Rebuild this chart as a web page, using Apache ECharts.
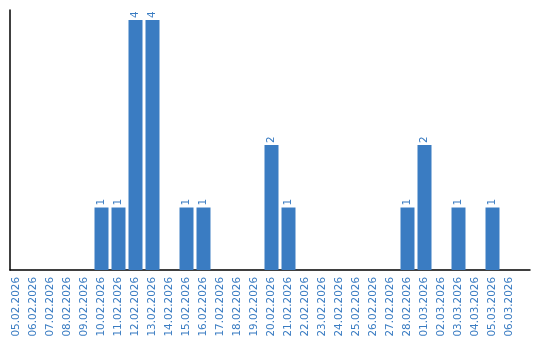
<!DOCTYPE html>
<html><head><meta charset="utf-8">
<script src="https://cdn.jsdelivr.net/npm/echarts@6/dist/echarts.min.js"></script>
<style>html,body{margin:0;padding:0;background:#fff}#c{width:540px;height:340px}</style>
</head><body><div id="c"></div>
<script>
const categories = ["05.02.2026","06.02.2026","07.02.2026","08.02.2026","09.02.2026","10.02.2026","11.02.2026","12.02.2026","13.02.2026","14.02.2026","15.02.2026","16.02.2026","17.02.2026","18.02.2026","19.02.2026","20.02.2026","21.02.2026","22.02.2026","23.02.2026","24.02.2026","25.02.2026","26.02.2026","27.02.2026","28.02.2026","01.03.2026","02.03.2026","03.03.2026","04.03.2026","05.03.2026","06.03.2026"];
const values = [0,0,0,0,0,1,1,4,4,0,1,1,0,0,0,2,1,0,0,0,0,0,0,1,2,0,1,0,1,0];
const blue = '#3a7cc2';
const chart = echarts.init(document.getElementById('c'));
chart.setOption({
  animation: false,
  grid: [
    {left: 8, right: 22, top: 10, bottom: 70, containLabel: false},
    {left: 10, right: 10, top: 10, bottom: 70, containLabel: false}
  ],
  xAxis: [{
    type: 'category', data: categories, gridIndex: 0,
    axisLine: {show: false},
    axisTick: {show: false},
    axisLabel: {rotate: 90, color: blue, fontSize: 10.4, fontFamily: 'DejaVu Sans', interval: 0, margin: 7}
  }, {
    type: 'value', gridIndex: 1, min: 0, max: 1,
    axisLine: {show: true, lineStyle: {color: '#000', width: 1.5}},
    axisTick: {show: false}, axisLabel: {show: false}, splitLine: {show: false}
  }],
  yAxis: [{
    type: 'value', gridIndex: 0, min: 0, max: 4.16,
    axisLine: {show: false}, axisTick: {show: false}, axisLabel: {show: false}, splitLine: {show: false}
  }, {
    type: 'value', gridIndex: 1, min: 0, max: 1,
    axisLine: {show: true, lineStyle: {color: '#000', width: 1.5}},
    axisTick: {show: false}, axisLabel: {show: false}, splitLine: {show: false}
  }],
  series: [{
    type: 'bar', xAxisIndex: 0, yAxisIndex: 0,
    data: values.map(v => v === 0 ? null : v),
    barWidth: 14,
    itemStyle: {color: blue},
    label: {show: true, position: 'top', rotate: 90, align: 'left', verticalAlign: 'middle', distance: 2, color: blue, fontSize: 10.4, fontFamily: 'DejaVu Sans'}
  }]
});
</script></body></html>
